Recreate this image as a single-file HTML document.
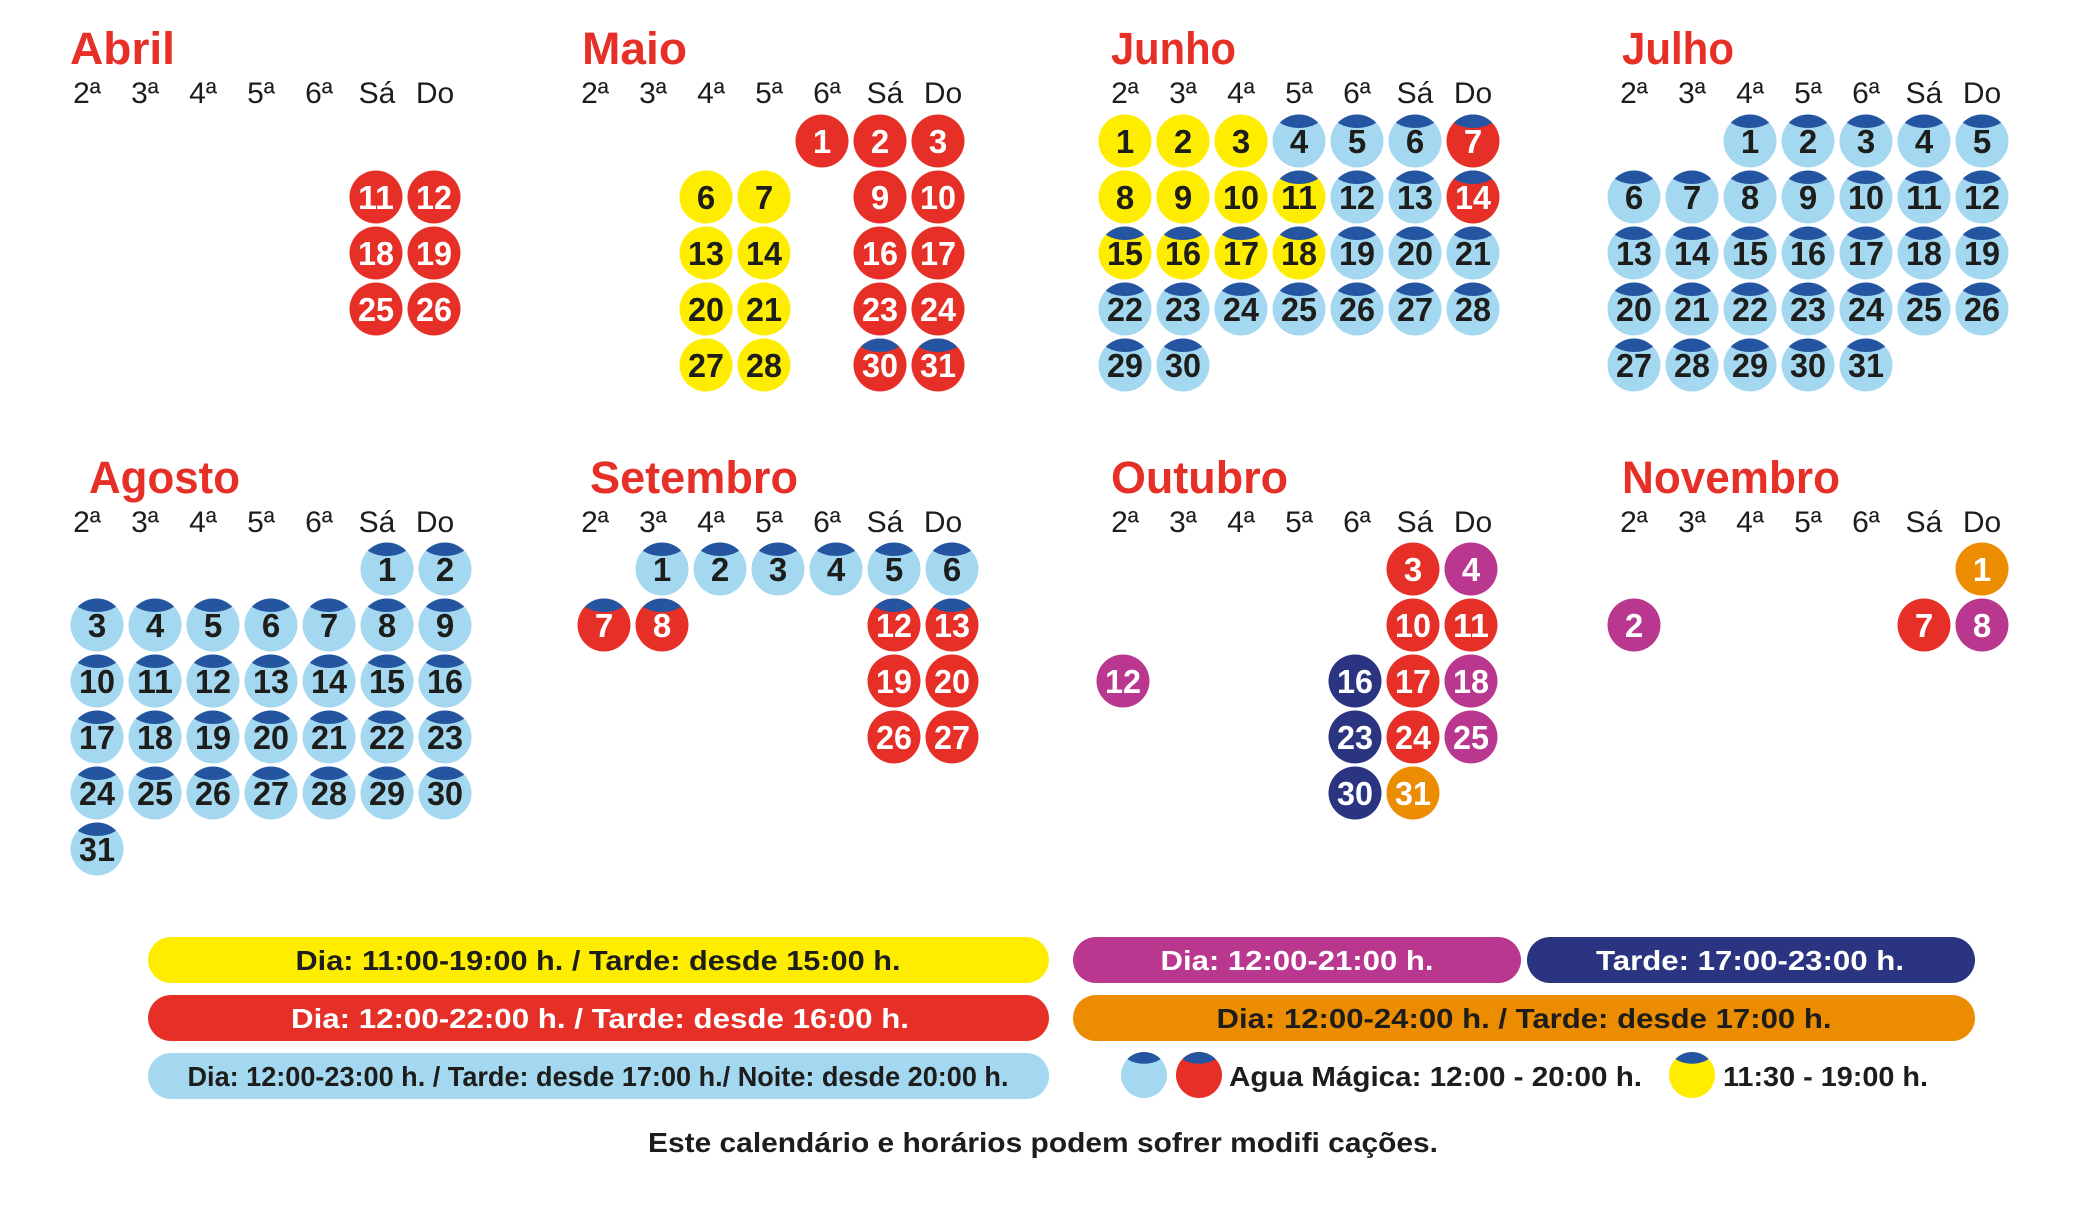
<!DOCTYPE html>
<html><head><meta charset="utf-8"><style>
html,body{margin:0;padding:0;background:#fff}
svg{display:block}
text{font-family:"Liberation Sans",sans-serif}
.t{fill:#e63027;font-weight:bold;font-size:45px}
.h{fill:#1d1d1b;font-size:30px;text-anchor:middle}
.n{font-weight:bold;font-size:33px;text-anchor:middle}
.d{fill:#1d1d1b}.w{fill:#fff}
.Y{fill:#ffed00}.R{fill:#e63027}.B{fill:#a3d8f0}.P{fill:#b9378f}.N{fill:#2b3480}.O{fill:#ec8c00}
.L{font-weight:bold;font-size:28px;text-anchor:middle}
</style></head><body>
<svg width="2084" height="1213" viewBox="0 0 2084 1213" xmlns="http://www.w3.org/2000/svg">
<defs>
<clipPath id="cc"><circle cx="0" cy="0" r="26.5"/></clipPath>
<g id="cap" clip-path="url(#cc)"><ellipse cx="0" cy="-28" rx="25" ry="15" fill="#2555a0"/></g>
</defs>

<!-- Titles -->
<text class="t" x="70" y="64" textLength="105" lengthAdjust="spacingAndGlyphs">Abril</text>
<text class="t" x="582" y="64" textLength="105" lengthAdjust="spacingAndGlyphs">Maio</text>
<text class="t" x="1111" y="64" textLength="125" lengthAdjust="spacingAndGlyphs">Junho</text>
<text class="t" x="1622" y="64" textLength="112" lengthAdjust="spacingAndGlyphs">Julho</text>
<text class="t" x="89" y="493" textLength="151" lengthAdjust="spacingAndGlyphs">Agosto</text>
<text class="t" x="590" y="493" textLength="208" lengthAdjust="spacingAndGlyphs">Setembro</text>
<text class="t" x="1111" y="493" textLength="177" lengthAdjust="spacingAndGlyphs">Outubro</text>
<text class="t" x="1622" y="493" textLength="218" lengthAdjust="spacingAndGlyphs">Novembro</text>

<!-- Headers -->
<g class="h">
<text x="87" y="103">2ª</text><text x="145" y="103">3ª</text><text x="203" y="103">4ª</text><text x="261" y="103">5ª</text><text x="319" y="103">6ª</text><text x="377" y="103">Sá</text><text x="435" y="103">Do</text>
<text x="595" y="103">2ª</text><text x="653" y="103">3ª</text><text x="711" y="103">4ª</text><text x="769" y="103">5ª</text><text x="827" y="103">6ª</text><text x="885" y="103">Sá</text><text x="943" y="103">Do</text>
<text x="1125" y="103">2ª</text><text x="1183" y="103">3ª</text><text x="1241" y="103">4ª</text><text x="1299" y="103">5ª</text><text x="1357" y="103">6ª</text><text x="1415" y="103">Sá</text><text x="1473" y="103">Do</text>
<text x="1634" y="103">2ª</text><text x="1692" y="103">3ª</text><text x="1750" y="103">4ª</text><text x="1808" y="103">5ª</text><text x="1866" y="103">6ª</text><text x="1924" y="103">Sá</text><text x="1982" y="103">Do</text>
<text x="87" y="532">2ª</text><text x="145" y="532">3ª</text><text x="203" y="532">4ª</text><text x="261" y="532">5ª</text><text x="319" y="532">6ª</text><text x="377" y="532">Sá</text><text x="435" y="532">Do</text>
<text x="595" y="532">2ª</text><text x="653" y="532">3ª</text><text x="711" y="532">4ª</text><text x="769" y="532">5ª</text><text x="827" y="532">6ª</text><text x="885" y="532">Sá</text><text x="943" y="532">Do</text>
<text x="1125" y="532">2ª</text><text x="1183" y="532">3ª</text><text x="1241" y="532">4ª</text><text x="1299" y="532">5ª</text><text x="1357" y="532">6ª</text><text x="1415" y="532">Sá</text><text x="1473" y="532">Do</text>
<text x="1634" y="532">2ª</text><text x="1692" y="532">3ª</text><text x="1750" y="532">4ª</text><text x="1808" y="532">5ª</text><text x="1866" y="532">6ª</text><text x="1924" y="532">Sá</text><text x="1982" y="532">Do</text>
</g>

<!-- Abril -->
<circle class="R" cx="376" cy="197" r="26.5"/><text class="n w" x="376" y="209" textLength="36" lengthAdjust="spacingAndGlyphs">11</text>
<circle class="R" cx="434" cy="197" r="26.5"/><text class="n w" x="434" y="209" textLength="36" lengthAdjust="spacingAndGlyphs">12</text>
<circle class="R" cx="376" cy="253" r="26.5"/><text class="n w" x="376" y="265" textLength="36" lengthAdjust="spacingAndGlyphs">18</text>
<circle class="R" cx="434" cy="253" r="26.5"/><text class="n w" x="434" y="265" textLength="36" lengthAdjust="spacingAndGlyphs">19</text>
<circle class="R" cx="376" cy="309" r="26.5"/><text class="n w" x="376" y="321" textLength="36" lengthAdjust="spacingAndGlyphs">25</text>
<circle class="R" cx="434" cy="309" r="26.5"/><text class="n w" x="434" y="321" textLength="36" lengthAdjust="spacingAndGlyphs">26</text>

<!-- Maio -->
<circle class="R" cx="822" cy="141" r="26.5"/><text class="n w" x="822" y="153">1</text>
<circle class="R" cx="880" cy="141" r="26.5"/><text class="n w" x="880" y="153">2</text>
<circle class="R" cx="938" cy="141" r="26.5"/><text class="n w" x="938" y="153">3</text>
<circle class="Y" cx="706" cy="197" r="26.5"/><text class="n d" x="706" y="209">6</text>
<circle class="Y" cx="764" cy="197" r="26.5"/><text class="n d" x="764" y="209">7</text>
<circle class="R" cx="880" cy="197" r="26.5"/><text class="n w" x="880" y="209">9</text>
<circle class="R" cx="938" cy="197" r="26.5"/><text class="n w" x="938" y="209" textLength="36" lengthAdjust="spacingAndGlyphs">10</text>
<circle class="Y" cx="706" cy="253" r="26.5"/><text class="n d" x="706" y="265" textLength="36" lengthAdjust="spacingAndGlyphs">13</text>
<circle class="Y" cx="764" cy="253" r="26.5"/><text class="n d" x="764" y="265" textLength="36" lengthAdjust="spacingAndGlyphs">14</text>
<circle class="R" cx="880" cy="253" r="26.5"/><text class="n w" x="880" y="265" textLength="36" lengthAdjust="spacingAndGlyphs">16</text>
<circle class="R" cx="938" cy="253" r="26.5"/><text class="n w" x="938" y="265" textLength="36" lengthAdjust="spacingAndGlyphs">17</text>
<circle class="Y" cx="706" cy="309" r="26.5"/><text class="n d" x="706" y="321" textLength="36" lengthAdjust="spacingAndGlyphs">20</text>
<circle class="Y" cx="764" cy="309" r="26.5"/><text class="n d" x="764" y="321" textLength="36" lengthAdjust="spacingAndGlyphs">21</text>
<circle class="R" cx="880" cy="309" r="26.5"/><text class="n w" x="880" y="321" textLength="36" lengthAdjust="spacingAndGlyphs">23</text>
<circle class="R" cx="938" cy="309" r="26.5"/><text class="n w" x="938" y="321" textLength="36" lengthAdjust="spacingAndGlyphs">24</text>
<circle class="Y" cx="706" cy="365" r="26.5"/><text class="n d" x="706" y="377" textLength="36" lengthAdjust="spacingAndGlyphs">27</text>
<circle class="Y" cx="764" cy="365" r="26.5"/><text class="n d" x="764" y="377" textLength="36" lengthAdjust="spacingAndGlyphs">28</text>
<circle class="R" cx="880" cy="365" r="26.5"/><use href="#cap" x="880" y="365"/><text class="n w" x="880" y="377" textLength="36" lengthAdjust="spacingAndGlyphs">30</text>
<circle class="R" cx="938" cy="365" r="26.5"/><use href="#cap" x="938" y="365"/><text class="n w" x="938" y="377" textLength="36" lengthAdjust="spacingAndGlyphs">31</text>

<!-- Junho -->
<circle class="Y" cx="1125" cy="141" r="26.5"/><text class="n d" x="1125" y="153">1</text>
<circle class="Y" cx="1183" cy="141" r="26.5"/><text class="n d" x="1183" y="153">2</text>
<circle class="Y" cx="1241" cy="141" r="26.5"/><text class="n d" x="1241" y="153">3</text>
<circle class="B" cx="1299" cy="141" r="26.5"/><use href="#cap" x="1299" y="141"/><text class="n d" x="1299" y="153">4</text>
<circle class="B" cx="1357" cy="141" r="26.5"/><use href="#cap" x="1357" y="141"/><text class="n d" x="1357" y="153">5</text>
<circle class="B" cx="1415" cy="141" r="26.5"/><use href="#cap" x="1415" y="141"/><text class="n d" x="1415" y="153">6</text>
<circle class="R" cx="1473" cy="141" r="26.5"/><use href="#cap" x="1473" y="141"/><text class="n w" x="1473" y="153">7</text>
<circle class="Y" cx="1125" cy="197" r="26.5"/><text class="n d" x="1125" y="209">8</text>
<circle class="Y" cx="1183" cy="197" r="26.5"/><text class="n d" x="1183" y="209">9</text>
<circle class="Y" cx="1241" cy="197" r="26.5"/><text class="n d" x="1241" y="209" textLength="36" lengthAdjust="spacingAndGlyphs">10</text>
<circle class="Y" cx="1299" cy="197" r="26.5"/><use href="#cap" x="1299" y="197"/><text class="n d" x="1299" y="209" textLength="36" lengthAdjust="spacingAndGlyphs">11</text>
<circle class="B" cx="1357" cy="197" r="26.5"/><use href="#cap" x="1357" y="197"/><text class="n d" x="1357" y="209" textLength="36" lengthAdjust="spacingAndGlyphs">12</text>
<circle class="B" cx="1415" cy="197" r="26.5"/><use href="#cap" x="1415" y="197"/><text class="n d" x="1415" y="209" textLength="36" lengthAdjust="spacingAndGlyphs">13</text>
<circle class="R" cx="1473" cy="197" r="26.5"/><use href="#cap" x="1473" y="197"/><text class="n w" x="1473" y="209" textLength="36" lengthAdjust="spacingAndGlyphs">14</text>
<circle class="Y" cx="1125" cy="253" r="26.5"/><use href="#cap" x="1125" y="253"/><text class="n d" x="1125" y="265" textLength="36" lengthAdjust="spacingAndGlyphs">15</text>
<circle class="Y" cx="1183" cy="253" r="26.5"/><use href="#cap" x="1183" y="253"/><text class="n d" x="1183" y="265" textLength="36" lengthAdjust="spacingAndGlyphs">16</text>
<circle class="Y" cx="1241" cy="253" r="26.5"/><use href="#cap" x="1241" y="253"/><text class="n d" x="1241" y="265" textLength="36" lengthAdjust="spacingAndGlyphs">17</text>
<circle class="Y" cx="1299" cy="253" r="26.5"/><use href="#cap" x="1299" y="253"/><text class="n d" x="1299" y="265" textLength="36" lengthAdjust="spacingAndGlyphs">18</text>
<circle class="B" cx="1357" cy="253" r="26.5"/><use href="#cap" x="1357" y="253"/><text class="n d" x="1357" y="265" textLength="36" lengthAdjust="spacingAndGlyphs">19</text>
<circle class="B" cx="1415" cy="253" r="26.5"/><use href="#cap" x="1415" y="253"/><text class="n d" x="1415" y="265" textLength="36" lengthAdjust="spacingAndGlyphs">20</text>
<circle class="B" cx="1473" cy="253" r="26.5"/><use href="#cap" x="1473" y="253"/><text class="n d" x="1473" y="265" textLength="36" lengthAdjust="spacingAndGlyphs">21</text>
<circle class="B" cx="1125" cy="309" r="26.5"/><use href="#cap" x="1125" y="309"/><text class="n d" x="1125" y="321" textLength="36" lengthAdjust="spacingAndGlyphs">22</text>
<circle class="B" cx="1183" cy="309" r="26.5"/><use href="#cap" x="1183" y="309"/><text class="n d" x="1183" y="321" textLength="36" lengthAdjust="spacingAndGlyphs">23</text>
<circle class="B" cx="1241" cy="309" r="26.5"/><use href="#cap" x="1241" y="309"/><text class="n d" x="1241" y="321" textLength="36" lengthAdjust="spacingAndGlyphs">24</text>
<circle class="B" cx="1299" cy="309" r="26.5"/><use href="#cap" x="1299" y="309"/><text class="n d" x="1299" y="321" textLength="36" lengthAdjust="spacingAndGlyphs">25</text>
<circle class="B" cx="1357" cy="309" r="26.5"/><use href="#cap" x="1357" y="309"/><text class="n d" x="1357" y="321" textLength="36" lengthAdjust="spacingAndGlyphs">26</text>
<circle class="B" cx="1415" cy="309" r="26.5"/><use href="#cap" x="1415" y="309"/><text class="n d" x="1415" y="321" textLength="36" lengthAdjust="spacingAndGlyphs">27</text>
<circle class="B" cx="1473" cy="309" r="26.5"/><use href="#cap" x="1473" y="309"/><text class="n d" x="1473" y="321" textLength="36" lengthAdjust="spacingAndGlyphs">28</text>
<circle class="B" cx="1125" cy="365" r="26.5"/><use href="#cap" x="1125" y="365"/><text class="n d" x="1125" y="377" textLength="36" lengthAdjust="spacingAndGlyphs">29</text>
<circle class="B" cx="1183" cy="365" r="26.5"/><use href="#cap" x="1183" y="365"/><text class="n d" x="1183" y="377" textLength="36" lengthAdjust="spacingAndGlyphs">30</text>

<!-- Julho -->
<circle class="B" cx="1750" cy="141" r="26.5"/><use href="#cap" x="1750" y="141"/><text class="n d" x="1750" y="153">1</text>
<circle class="B" cx="1808" cy="141" r="26.5"/><use href="#cap" x="1808" y="141"/><text class="n d" x="1808" y="153">2</text>
<circle class="B" cx="1866" cy="141" r="26.5"/><use href="#cap" x="1866" y="141"/><text class="n d" x="1866" y="153">3</text>
<circle class="B" cx="1924" cy="141" r="26.5"/><use href="#cap" x="1924" y="141"/><text class="n d" x="1924" y="153">4</text>
<circle class="B" cx="1982" cy="141" r="26.5"/><use href="#cap" x="1982" y="141"/><text class="n d" x="1982" y="153">5</text>
<circle class="B" cx="1634" cy="197" r="26.5"/><use href="#cap" x="1634" y="197"/><text class="n d" x="1634" y="209">6</text>
<circle class="B" cx="1692" cy="197" r="26.5"/><use href="#cap" x="1692" y="197"/><text class="n d" x="1692" y="209">7</text>
<circle class="B" cx="1750" cy="197" r="26.5"/><use href="#cap" x="1750" y="197"/><text class="n d" x="1750" y="209">8</text>
<circle class="B" cx="1808" cy="197" r="26.5"/><use href="#cap" x="1808" y="197"/><text class="n d" x="1808" y="209">9</text>
<circle class="B" cx="1866" cy="197" r="26.5"/><use href="#cap" x="1866" y="197"/><text class="n d" x="1866" y="209" textLength="36" lengthAdjust="spacingAndGlyphs">10</text>
<circle class="B" cx="1924" cy="197" r="26.5"/><use href="#cap" x="1924" y="197"/><text class="n d" x="1924" y="209" textLength="36" lengthAdjust="spacingAndGlyphs">11</text>
<circle class="B" cx="1982" cy="197" r="26.5"/><use href="#cap" x="1982" y="197"/><text class="n d" x="1982" y="209" textLength="36" lengthAdjust="spacingAndGlyphs">12</text>
<circle class="B" cx="1634" cy="253" r="26.5"/><use href="#cap" x="1634" y="253"/><text class="n d" x="1634" y="265" textLength="36" lengthAdjust="spacingAndGlyphs">13</text>
<circle class="B" cx="1692" cy="253" r="26.5"/><use href="#cap" x="1692" y="253"/><text class="n d" x="1692" y="265" textLength="36" lengthAdjust="spacingAndGlyphs">14</text>
<circle class="B" cx="1750" cy="253" r="26.5"/><use href="#cap" x="1750" y="253"/><text class="n d" x="1750" y="265" textLength="36" lengthAdjust="spacingAndGlyphs">15</text>
<circle class="B" cx="1808" cy="253" r="26.5"/><use href="#cap" x="1808" y="253"/><text class="n d" x="1808" y="265" textLength="36" lengthAdjust="spacingAndGlyphs">16</text>
<circle class="B" cx="1866" cy="253" r="26.5"/><use href="#cap" x="1866" y="253"/><text class="n d" x="1866" y="265" textLength="36" lengthAdjust="spacingAndGlyphs">17</text>
<circle class="B" cx="1924" cy="253" r="26.5"/><use href="#cap" x="1924" y="253"/><text class="n d" x="1924" y="265" textLength="36" lengthAdjust="spacingAndGlyphs">18</text>
<circle class="B" cx="1982" cy="253" r="26.5"/><use href="#cap" x="1982" y="253"/><text class="n d" x="1982" y="265" textLength="36" lengthAdjust="spacingAndGlyphs">19</text>
<circle class="B" cx="1634" cy="309" r="26.5"/><use href="#cap" x="1634" y="309"/><text class="n d" x="1634" y="321" textLength="36" lengthAdjust="spacingAndGlyphs">20</text>
<circle class="B" cx="1692" cy="309" r="26.5"/><use href="#cap" x="1692" y="309"/><text class="n d" x="1692" y="321" textLength="36" lengthAdjust="spacingAndGlyphs">21</text>
<circle class="B" cx="1750" cy="309" r="26.5"/><use href="#cap" x="1750" y="309"/><text class="n d" x="1750" y="321" textLength="36" lengthAdjust="spacingAndGlyphs">22</text>
<circle class="B" cx="1808" cy="309" r="26.5"/><use href="#cap" x="1808" y="309"/><text class="n d" x="1808" y="321" textLength="36" lengthAdjust="spacingAndGlyphs">23</text>
<circle class="B" cx="1866" cy="309" r="26.5"/><use href="#cap" x="1866" y="309"/><text class="n d" x="1866" y="321" textLength="36" lengthAdjust="spacingAndGlyphs">24</text>
<circle class="B" cx="1924" cy="309" r="26.5"/><use href="#cap" x="1924" y="309"/><text class="n d" x="1924" y="321" textLength="36" lengthAdjust="spacingAndGlyphs">25</text>
<circle class="B" cx="1982" cy="309" r="26.5"/><use href="#cap" x="1982" y="309"/><text class="n d" x="1982" y="321" textLength="36" lengthAdjust="spacingAndGlyphs">26</text>
<circle class="B" cx="1634" cy="365" r="26.5"/><use href="#cap" x="1634" y="365"/><text class="n d" x="1634" y="377" textLength="36" lengthAdjust="spacingAndGlyphs">27</text>
<circle class="B" cx="1692" cy="365" r="26.5"/><use href="#cap" x="1692" y="365"/><text class="n d" x="1692" y="377" textLength="36" lengthAdjust="spacingAndGlyphs">28</text>
<circle class="B" cx="1750" cy="365" r="26.5"/><use href="#cap" x="1750" y="365"/><text class="n d" x="1750" y="377" textLength="36" lengthAdjust="spacingAndGlyphs">29</text>
<circle class="B" cx="1808" cy="365" r="26.5"/><use href="#cap" x="1808" y="365"/><text class="n d" x="1808" y="377" textLength="36" lengthAdjust="spacingAndGlyphs">30</text>
<circle class="B" cx="1866" cy="365" r="26.5"/><use href="#cap" x="1866" y="365"/><text class="n d" x="1866" y="377" textLength="36" lengthAdjust="spacingAndGlyphs">31</text>

<!-- Agosto -->
<circle class="B" cx="387" cy="569" r="26.5"/><use href="#cap" x="387" y="569"/><text class="n d" x="387" y="581">1</text>
<circle class="B" cx="445" cy="569" r="26.5"/><use href="#cap" x="445" y="569"/><text class="n d" x="445" y="581">2</text>
<circle class="B" cx="97" cy="625" r="26.5"/><use href="#cap" x="97" y="625"/><text class="n d" x="97" y="637">3</text>
<circle class="B" cx="155" cy="625" r="26.5"/><use href="#cap" x="155" y="625"/><text class="n d" x="155" y="637">4</text>
<circle class="B" cx="213" cy="625" r="26.5"/><use href="#cap" x="213" y="625"/><text class="n d" x="213" y="637">5</text>
<circle class="B" cx="271" cy="625" r="26.5"/><use href="#cap" x="271" y="625"/><text class="n d" x="271" y="637">6</text>
<circle class="B" cx="329" cy="625" r="26.5"/><use href="#cap" x="329" y="625"/><text class="n d" x="329" y="637">7</text>
<circle class="B" cx="387" cy="625" r="26.5"/><use href="#cap" x="387" y="625"/><text class="n d" x="387" y="637">8</text>
<circle class="B" cx="445" cy="625" r="26.5"/><use href="#cap" x="445" y="625"/><text class="n d" x="445" y="637">9</text>
<circle class="B" cx="97" cy="681" r="26.5"/><use href="#cap" x="97" y="681"/><text class="n d" x="97" y="693" textLength="36" lengthAdjust="spacingAndGlyphs">10</text>
<circle class="B" cx="155" cy="681" r="26.5"/><use href="#cap" x="155" y="681"/><text class="n d" x="155" y="693" textLength="36" lengthAdjust="spacingAndGlyphs">11</text>
<circle class="B" cx="213" cy="681" r="26.5"/><use href="#cap" x="213" y="681"/><text class="n d" x="213" y="693" textLength="36" lengthAdjust="spacingAndGlyphs">12</text>
<circle class="B" cx="271" cy="681" r="26.5"/><use href="#cap" x="271" y="681"/><text class="n d" x="271" y="693" textLength="36" lengthAdjust="spacingAndGlyphs">13</text>
<circle class="B" cx="329" cy="681" r="26.5"/><use href="#cap" x="329" y="681"/><text class="n d" x="329" y="693" textLength="36" lengthAdjust="spacingAndGlyphs">14</text>
<circle class="B" cx="387" cy="681" r="26.5"/><use href="#cap" x="387" y="681"/><text class="n d" x="387" y="693" textLength="36" lengthAdjust="spacingAndGlyphs">15</text>
<circle class="B" cx="445" cy="681" r="26.5"/><use href="#cap" x="445" y="681"/><text class="n d" x="445" y="693" textLength="36" lengthAdjust="spacingAndGlyphs">16</text>
<circle class="B" cx="97" cy="737" r="26.5"/><use href="#cap" x="97" y="737"/><text class="n d" x="97" y="749" textLength="36" lengthAdjust="spacingAndGlyphs">17</text>
<circle class="B" cx="155" cy="737" r="26.5"/><use href="#cap" x="155" y="737"/><text class="n d" x="155" y="749" textLength="36" lengthAdjust="spacingAndGlyphs">18</text>
<circle class="B" cx="213" cy="737" r="26.5"/><use href="#cap" x="213" y="737"/><text class="n d" x="213" y="749" textLength="36" lengthAdjust="spacingAndGlyphs">19</text>
<circle class="B" cx="271" cy="737" r="26.5"/><use href="#cap" x="271" y="737"/><text class="n d" x="271" y="749" textLength="36" lengthAdjust="spacingAndGlyphs">20</text>
<circle class="B" cx="329" cy="737" r="26.5"/><use href="#cap" x="329" y="737"/><text class="n d" x="329" y="749" textLength="36" lengthAdjust="spacingAndGlyphs">21</text>
<circle class="B" cx="387" cy="737" r="26.5"/><use href="#cap" x="387" y="737"/><text class="n d" x="387" y="749" textLength="36" lengthAdjust="spacingAndGlyphs">22</text>
<circle class="B" cx="445" cy="737" r="26.5"/><use href="#cap" x="445" y="737"/><text class="n d" x="445" y="749" textLength="36" lengthAdjust="spacingAndGlyphs">23</text>
<circle class="B" cx="97" cy="793" r="26.5"/><use href="#cap" x="97" y="793"/><text class="n d" x="97" y="805" textLength="36" lengthAdjust="spacingAndGlyphs">24</text>
<circle class="B" cx="155" cy="793" r="26.5"/><use href="#cap" x="155" y="793"/><text class="n d" x="155" y="805" textLength="36" lengthAdjust="spacingAndGlyphs">25</text>
<circle class="B" cx="213" cy="793" r="26.5"/><use href="#cap" x="213" y="793"/><text class="n d" x="213" y="805" textLength="36" lengthAdjust="spacingAndGlyphs">26</text>
<circle class="B" cx="271" cy="793" r="26.5"/><use href="#cap" x="271" y="793"/><text class="n d" x="271" y="805" textLength="36" lengthAdjust="spacingAndGlyphs">27</text>
<circle class="B" cx="329" cy="793" r="26.5"/><use href="#cap" x="329" y="793"/><text class="n d" x="329" y="805" textLength="36" lengthAdjust="spacingAndGlyphs">28</text>
<circle class="B" cx="387" cy="793" r="26.5"/><use href="#cap" x="387" y="793"/><text class="n d" x="387" y="805" textLength="36" lengthAdjust="spacingAndGlyphs">29</text>
<circle class="B" cx="445" cy="793" r="26.5"/><use href="#cap" x="445" y="793"/><text class="n d" x="445" y="805" textLength="36" lengthAdjust="spacingAndGlyphs">30</text>
<circle class="B" cx="97" cy="849" r="26.5"/><use href="#cap" x="97" y="849"/><text class="n d" x="97" y="861" textLength="36" lengthAdjust="spacingAndGlyphs">31</text>

<!-- Setembro -->
<circle class="B" cx="662" cy="569" r="26.5"/><use href="#cap" x="662" y="569"/><text class="n d" x="662" y="581">1</text>
<circle class="B" cx="720" cy="569" r="26.5"/><use href="#cap" x="720" y="569"/><text class="n d" x="720" y="581">2</text>
<circle class="B" cx="778" cy="569" r="26.5"/><use href="#cap" x="778" y="569"/><text class="n d" x="778" y="581">3</text>
<circle class="B" cx="836" cy="569" r="26.5"/><use href="#cap" x="836" y="569"/><text class="n d" x="836" y="581">4</text>
<circle class="B" cx="894" cy="569" r="26.5"/><use href="#cap" x="894" y="569"/><text class="n d" x="894" y="581">5</text>
<circle class="B" cx="952" cy="569" r="26.5"/><use href="#cap" x="952" y="569"/><text class="n d" x="952" y="581">6</text>
<circle class="R" cx="604" cy="625" r="26.5"/><use href="#cap" x="604" y="625"/><text class="n w" x="604" y="637">7</text>
<circle class="R" cx="662" cy="625" r="26.5"/><use href="#cap" x="662" y="625"/><text class="n w" x="662" y="637">8</text>
<circle class="R" cx="894" cy="625" r="26.5"/><use href="#cap" x="894" y="625"/><text class="n w" x="894" y="637" textLength="36" lengthAdjust="spacingAndGlyphs">12</text>
<circle class="R" cx="952" cy="625" r="26.5"/><use href="#cap" x="952" y="625"/><text class="n w" x="952" y="637" textLength="36" lengthAdjust="spacingAndGlyphs">13</text>
<circle class="R" cx="894" cy="681" r="26.5"/><text class="n w" x="894" y="693" textLength="36" lengthAdjust="spacingAndGlyphs">19</text>
<circle class="R" cx="952" cy="681" r="26.5"/><text class="n w" x="952" y="693" textLength="36" lengthAdjust="spacingAndGlyphs">20</text>
<circle class="R" cx="894" cy="737" r="26.5"/><text class="n w" x="894" y="749" textLength="36" lengthAdjust="spacingAndGlyphs">26</text>
<circle class="R" cx="952" cy="737" r="26.5"/><text class="n w" x="952" y="749" textLength="36" lengthAdjust="spacingAndGlyphs">27</text>

<!-- Outubro -->
<circle class="R" cx="1413" cy="569" r="26.5"/><text class="n w" x="1413" y="581">3</text>
<circle class="P" cx="1471" cy="569" r="26.5"/><text class="n w" x="1471" y="581">4</text>
<circle class="R" cx="1413" cy="625" r="26.5"/><text class="n w" x="1413" y="637" textLength="36" lengthAdjust="spacingAndGlyphs">10</text>
<circle class="R" cx="1471" cy="625" r="26.5"/><text class="n w" x="1471" y="637" textLength="36" lengthAdjust="spacingAndGlyphs">11</text>
<circle class="P" cx="1123" cy="681" r="26.5"/><text class="n w" x="1123" y="693" textLength="36" lengthAdjust="spacingAndGlyphs">12</text>
<circle class="N" cx="1355" cy="681" r="26.5"/><text class="n w" x="1355" y="693" textLength="36" lengthAdjust="spacingAndGlyphs">16</text>
<circle class="R" cx="1413" cy="681" r="26.5"/><text class="n w" x="1413" y="693" textLength="36" lengthAdjust="spacingAndGlyphs">17</text>
<circle class="P" cx="1471" cy="681" r="26.5"/><text class="n w" x="1471" y="693" textLength="36" lengthAdjust="spacingAndGlyphs">18</text>
<circle class="N" cx="1355" cy="737" r="26.5"/><text class="n w" x="1355" y="749" textLength="36" lengthAdjust="spacingAndGlyphs">23</text>
<circle class="R" cx="1413" cy="737" r="26.5"/><text class="n w" x="1413" y="749" textLength="36" lengthAdjust="spacingAndGlyphs">24</text>
<circle class="P" cx="1471" cy="737" r="26.5"/><text class="n w" x="1471" y="749" textLength="36" lengthAdjust="spacingAndGlyphs">25</text>
<circle class="N" cx="1355" cy="793" r="26.5"/><text class="n w" x="1355" y="805" textLength="36" lengthAdjust="spacingAndGlyphs">30</text>
<circle class="O" cx="1413" cy="793" r="26.5"/><text class="n w" x="1413" y="805" textLength="36" lengthAdjust="spacingAndGlyphs">31</text>

<!-- Novembro -->
<circle class="O" cx="1982" cy="569" r="26.5"/><text class="n w" x="1982" y="581">1</text>
<circle class="P" cx="1634" cy="625" r="26.5"/><text class="n w" x="1634" y="637">2</text>
<circle class="R" cx="1924" cy="625" r="26.5"/><text class="n w" x="1924" y="637">7</text>
<circle class="P" cx="1982" cy="625" r="26.5"/><text class="n w" x="1982" y="637">8</text>

<!-- Legend bars -->
<rect x="148" y="937" width="901" height="46" rx="23" class="Y"/>
<text class="L d" x="598" y="970" textLength="605" lengthAdjust="spacingAndGlyphs">Dia: 11:00-19:00 h. / Tarde: desde 15:00 h.</text>
<rect x="148" y="995" width="901" height="46" rx="23" class="R"/>
<text class="L w" x="600" y="1028" textLength="618" lengthAdjust="spacingAndGlyphs">Dia: 12:00-22:00 h. / Tarde: desde 16:00 h.</text>
<rect x="148" y="1053" width="901" height="46" rx="23" class="B"/>
<text class="L d" x="598" y="1086" textLength="821" lengthAdjust="spacingAndGlyphs">Dia: 12:00-23:00 h. / Tarde: desde 17:00 h./ Noite: desde 20:00 h.</text>
<rect x="1073" y="937" width="448" height="46" rx="23" class="P"/>
<text class="L w" x="1297" y="970" textLength="273" lengthAdjust="spacingAndGlyphs">Dia: 12:00-21:00 h.</text>
<rect x="1527" y="937" width="448" height="46" rx="23" class="N"/>
<text class="L w" x="1750" y="970" textLength="308" lengthAdjust="spacingAndGlyphs">Tarde: 17:00-23:00 h.</text>
<rect x="1073" y="995" width="902" height="46" rx="23" class="O"/>
<text class="L d" x="1524" y="1028" textLength="615" lengthAdjust="spacingAndGlyphs">Dia: 12:00-24:00 h. / Tarde: desde 17:00 h.</text>

<circle class="B" cx="1144" cy="1075" r="23"/>
<g transform="translate(1144 1075) scale(0.87)"><use href="#cap"/></g>
<circle class="R" cx="1199" cy="1075" r="23"/>
<g transform="translate(1199 1075) scale(0.87)"><use href="#cap"/></g>
<text class="d" x="1229" y="1086" font-size="28" font-weight="bold" textLength="413" lengthAdjust="spacingAndGlyphs">Agua Mágica: 12:00 - 20:00 h.</text>
<circle class="Y" cx="1692" cy="1075" r="23"/>
<g transform="translate(1692 1075) scale(0.87)"><use href="#cap"/></g>
<text class="d" x="1723" y="1086" font-size="28" font-weight="bold" textLength="205" lengthAdjust="spacingAndGlyphs">11:30 - 19:00 h.</text>

<text class="d" x="648" y="1152" font-size="28" font-weight="bold" textLength="790" lengthAdjust="spacingAndGlyphs">Este calendário e horários podem sofrer modifi cações.</text>
</svg>
</body></html>
